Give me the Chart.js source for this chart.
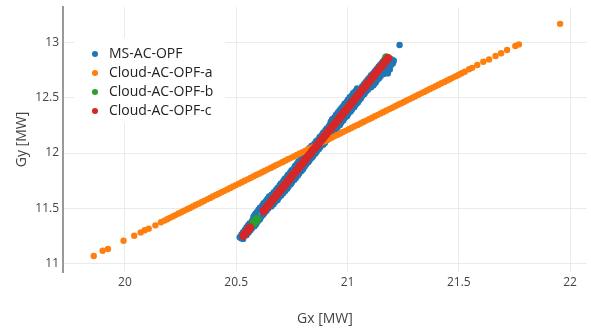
<!DOCTYPE html>
<html><head><meta charset="utf-8">
<script src="https://cdn.jsdelivr.net/npm/chart.js@4.4.1/dist/chart.umd.min.js"></script>
<style>html,body{margin:0;padding:0;background:#fff;overflow:hidden}</style>
</head><body>
<canvas id="c" width="591" height="329"></canvas>
<script>
const seriesNames = ['MS-AC-OPF', 'Cloud-AC-OPF-a', 'Cloud-AC-OPF-b', 'Cloud-AC-OPF-c'];
const xTicks = [20, 20.5, 21, 21.5, 22];
const yTicks = [11, 11.5, 12, 12.5, 13];
const xTitle = 'Gx [MW]';
const yTitle = 'Gy [MW]';

const msX = [20.522,20.531,20.516, 20.524,20.546, 20.531,20.555, 20.539,20.563, 20.546,20.570, 20.553,20.582, 20.560,20.589, 20.571,20.596, 20.577,20.606, 20.578,20.611, 20.585,20.620, 20.592,20.627, 20.600,20.636, 20.607,20.644, 20.617,20.658, 20.623,20.668, 20.633,20.676, 20.640,20.686, 20.648,20.692, 20.659,20.702, 20.669,20.711, 20.679,20.720, 20.686,20.729, 20.695,20.735, 20.701,20.745, 20.711,20.751, 20.717,20.761, 20.727,20.768, 20.733,20.777, 20.743,20.783, 20.749,20.793, 20.760,20.800, 20.765,20.807, 20.774,20.814, 20.780,20.824, 20.790,20.830, 20.796,20.840, 20.806,20.846, 20.812,20.856, 20.822,20.862, 20.828,20.872, 20.838,20.878, 20.851,20.891, 20.859,20.899, 20.869,20.908, 20.875,20.917, 20.885,20.923, 20.891,20.933, 20.901,20.940, 20.907,20.950, 20.917,20.956, 20.923,20.966, 20.925,20.972, 20.931,20.981, 20.941,20.987, 20.948,20.998, 20.956,21.004, 20.964,21.014, 20.972,21.020, 20.980,21.030, 20.987,21.036, 20.997,21.046, 21.002,21.052, 21.010,21.060, 21.020,21.066, 21.026,21.076, 21.036,21.083, 21.043,21.092, 21.066,21.106, 21.074,21.117, 21.082,21.126, 21.090,21.131, 21.098,21.141, 21.106,21.148, 21.116,21.162, 21.124,21.170, 21.132,21.180, 21.140,21.186, 21.148,21.196, 21.157,21.204, 21.165,21.208, 21.199,21.190,21.181, 21.234];
const msY = [11.226,11.221,11.236, 11.262,11.255, 11.283,11.276, 11.302,11.297, 11.324,11.315, 11.343,11.336, 11.362,11.355, 11.384,11.377, 11.403,11.396, 11.424,11.418, 11.446,11.437, 11.463,11.455, 11.486,11.476, 11.504,11.497, 11.524,11.516, 11.546,11.535, 11.563,11.557, 11.584,11.575, 11.605,11.596, 11.623,11.614, 11.644,11.636, 11.665,11.655, 11.684,11.676, 11.706,11.694, 11.724,11.716, 11.745,11.735, 11.764,11.757, 11.786,11.774, 11.803,11.797, 11.826,11.814, 11.844,11.837, 11.865,11.853, 11.884,11.876, 11.906,11.895, 11.923,11.917, 11.946,11.934, 11.963,11.957, 11.985,11.974, 12.004,11.996, 12.026,12.014, 12.043,12.037, 12.065,12.054, 12.084,12.076, 12.106,12.094, 12.123,12.117, 12.146,12.134, 12.164,12.155, 12.185,12.176, 12.206,12.194, 12.223,12.217, 12.246,12.235, 12.264,12.255, 12.285,12.276, 12.306,12.294, 12.323,12.317, 12.344,12.334, 12.365,12.355, 12.385,12.376, 12.406,12.394, 12.424,12.416, 12.446,12.435, 12.465,12.456, 12.484,12.476, 12.506,12.494, 12.524,12.516, 12.545,12.535, 12.563,12.557, 12.586,12.574, 12.604,12.596, 12.625,12.614, 12.644,12.637, 12.665,12.655, 12.684,12.676, 12.706,12.694, 12.724,12.716, 12.745,12.735, 12.764,12.757, 12.785,12.774, 12.804,12.797, 12.826,12.815, 12.843,12.836, 12.848,12.758,12.722, 12.979];

const cloudAX = [19.860,19.900,19.924,19.994,20.042,20.071,20.089,20.107,20.137,20.162,
 20.178,20.190,20.202,20.215,20.227,20.241,20.253,20.266,20.280,20.292,20.305,20.318,20.331,20.344,20.356,20.370,20.383,20.395,20.409,20.421,
 20.434,20.447,20.460,20.473,20.486,20.499,20.512,20.525,20.538,20.551,20.564,20.577,20.590,20.603,20.616,20.629,20.642,20.655,20.668,20.681,
 20.694,20.707,20.720,20.733,20.746,20.759,20.772,20.785,20.798,20.811,20.824,20.837,20.850,20.863,20.876,20.889,20.902,20.915,20.928,20.941,
 20.954,20.967,20.980,20.993,21.006,21.019,21.032,21.045,21.058,21.071,21.084,21.097,21.110,21.123,21.136,21.149,21.162,21.175,21.188,21.201,
 21.214,21.227,21.240,21.253,21.266,21.279,21.292,21.305,21.318,21.331,21.344,21.357,21.370,21.383,21.396,21.409,21.422,21.435,21.448,21.461,
 21.474,21.487,21.500,21.513,21.527,21.546,21.560,21.583,21.610,21.636,21.665,21.690,21.717,21.754,21.770,21.955];
const cloudAY = [11.066,11.114,11.130,11.205,11.250,11.280,11.300,11.314,11.344,11.372,
 11.387,11.400,11.412,11.425,11.437,11.451,11.463,11.476,11.490,11.502,11.515,11.528,11.541,11.554,11.566,11.580,11.593,11.605,11.619,11.631,
 11.644,11.657,11.670,11.683,11.696,11.709,11.722,11.735,11.748,11.761,11.774,11.787,11.800,11.813,11.826,11.839,11.852,11.865,11.878,11.891,
 11.904,11.917,11.930,11.943,11.956,11.969,11.982,11.995,12.008,12.021,12.034,12.047,12.060,12.073,12.086,12.099,12.112,12.125,12.138,12.151,
 12.164,12.177,12.190,12.203,12.216,12.229,12.242,12.255,12.268,12.281,12.294,12.307,12.320,12.333,12.346,12.359,12.372,12.385,12.398,12.411,
 12.424,12.437,12.450,12.463,12.476,12.489,12.502,12.515,12.528,12.541,12.554,12.567,12.580,12.593,12.606,12.619,12.632,12.645,12.658,12.671,
 12.684,12.697,12.710,12.723,12.737,12.760,12.772,12.798,12.828,12.849,12.879,12.904,12.934,12.970,12.985,13.171];

const cloudBX = [20.578,20.586,20.593,20.650,20.700,20.750,20.800,20.850,20.900,20.950,21.000,21.050,21.100,21.150,21.174];
const cloudBY = [11.363,11.383,11.400,11.542,11.666,11.789,11.913,12.037,12.161,12.285,12.408,12.532,12.656,12.780,12.866];

const cloudCX = [20.532,20.540,20.548,20.556,20.562,
 20.623,20.629,20.639,20.647,20.657,20.664,20.674,20.682,20.692,20.700,20.710,20.718,20.728,20.736,20.745,20.753,20.763,20.771,20.781,20.789,
 20.799,20.807,20.816,20.824,20.834,20.842,20.852,20.860,20.870,20.878,20.888,20.895,20.905,20.913,20.923,20.931,20.941,20.949,20.959,20.967,
 20.976,20.984,20.994,21.002,21.012,21.020,21.030,21.038,21.047,21.055,21.065,21.073,21.083,21.091,21.101,21.109,21.119,21.126,21.136,21.144,
 21.154,21.162,21.172,21.180,21.183];
const cloudCY = [11.250,11.269,11.289,11.309,11.324,
 11.472,11.490,11.512,11.534,11.556,11.578,11.600,11.622,11.644,11.666,11.688,11.710,11.732,11.754,11.776,11.798,11.820,11.842,11.864,11.886,
 11.908,11.930,11.952,11.974,11.996,12.018,12.040,12.062,12.084,12.106,12.128,12.150,12.172,12.194,12.216,12.238,12.260,12.282,12.304,12.326,
 12.348,12.370,12.392,12.414,12.436,12.458,12.480,12.502,12.524,12.546,12.568,12.590,12.612,12.634,12.656,12.678,12.700,12.722,12.744,12.766,
 12.788,12.810,12.832,12.854,12.860];

const seriesColors = ['#1f77b4', '#ff7f0e', '#2ca02c', '#d62728'];
const markerRadius = [3.2, 3.2, 4.2, 4.2];
const drawOrder = [3, 2, 1, 0];
const pts = (xs, ys) => xs.map((x, i) => ({x: x, y: ys[i]}));
const seriesX = [msX, cloudAX, cloudBX, cloudCX];
const seriesY = [msY, cloudAY, cloudBY, cloudCY];

Chart.defaults.font.family = "'Open Sans', 'DejaVu Sans', sans-serif";

const legendPlace = {
  id: 'legendPlace',
  afterLayout(chart) {
    const lg = chart.legend, ca = chart.chartArea;
    lg.left = ca.left + 20;
    lg.top = ca.top + 35;
  },
  beforeDatasetsDraw(chart) {
    const lg = chart.legend, ctx = chart.ctx;
    ctx.save();
    ctx.fillStyle = '#ffffff';
    ctx.fillRect(lg.left - 9, lg.top - 4, 151, 85);
    ctx.restore();
    lg.draw();
  }
};

new Chart(document.getElementById('c'), {
  type: 'scatter',
  data: {
    datasets: seriesNames.map((name, i) => ({
      label: name,
      data: pts(seriesX[i], seriesY[i]),
      backgroundColor: seriesColors[i],
      borderColor: seriesColors[i],
      borderWidth: 0,
      pointRadius: markerRadius[i],
      pointHoverRadius: markerRadius[i],
      order: drawOrder[i]
    }))
  },
  options: {
    responsive: false,
    animation: false,
    events: [],
    layout: { padding: { top: 7, right: 0, bottom: 0, left: 0 } },
    plugins: {
      tooltip: { enabled: false },
      legend: {
        position: 'chartArea',
        align: 'start',
        labels: {
          usePointStyle: true,
          pointStyle: 'circle',
          boxWidth: 14,
          boxHeight: 4.3,
          padding: 5,
          color: '#222',
          font: { size: 14 },
          sort: (a, b) => a.datasetIndex - b.datasetIndex
        }
      }
    },
    scales: {
      x: {
        type: 'linear',
        min: 19.722,
        max: 22.075,
        afterBuildTicks: s => { s.ticks = xTicks.map(v => ({ value: v })); },
        afterFit: s => { s.height = 57; s.paddingLeft = 0; s.paddingRight = 0; },
        ticks: { callback: v => String(v), color: '#444', font: { size: 12 }, padding: 3, maxRotation: 0, autoSkip: false },
        grid: { color: '#ebebeb', lineWidth: 1, drawTicks: false },
        border: { display: false },
        title: { display: true, text: xTitle, color: '#444', font: { size: 14 }, padding: { top: 0, bottom: 1.6 } }
      },
      y: {
        type: 'linear',
        min: 10.921,
        max: 13.324,
        afterBuildTicks: s => { s.ticks = yTicks.map(v => ({ value: v })); },
        afterFit: s => { s.width = 63; s.paddingTop = 0; s.paddingBottom = 0; },
        ticks: { callback: v => String(v), color: '#444', font: { size: 12 }, padding: 4, autoSkip: false },
        grid: { color: '#ebebeb', lineWidth: 1, drawTicks: false },
        border: { display: true, color: '#999', width: 2 },
        title: { display: true, text: yTitle, color: '#444', font: { size: 14 }, padding: { top: 13.5, bottom: 0 } }
      }
    }
  },
  plugins: [legendPlace]
});
</script>
</body></html>
